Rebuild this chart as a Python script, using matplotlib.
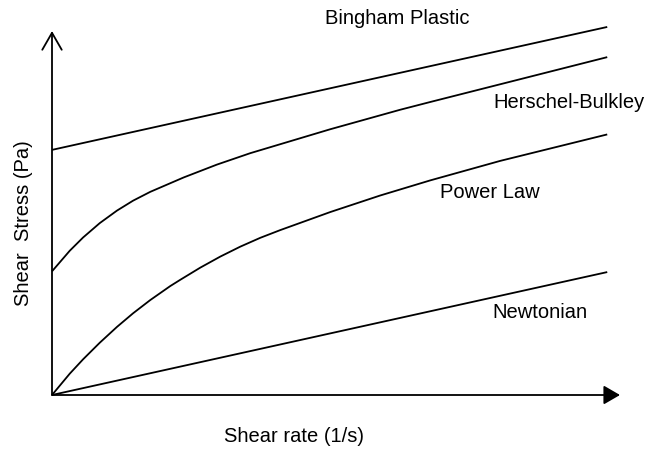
import matplotlib
matplotlib.use("Agg")
from matplotlib import pyplot as plt

plt.rcParams['font.family'] = ['Liberation Sans', 'DejaVu Sans']

# shear rate (arbitrary units, 0-100) and shear stress
newton_x = [0, 100]
newton_y = [0, 33.4]

bingham_x = [0, 100]
bingham_y = [66.6, 100]

power_x = [0, 3.2, 5.6, 8.6, 11.7, 14.6, 17.7, 21.3, 23.1, 26.7, 30.3,
           33.9, 37.5, 41.1, 50.1, 59.1, 68.1, 80.7, 100]
power_y = [0, 5.8, 9.7, 14.2, 18.5, 22.2, 25.8, 29.6, 31.3, 34.6, 37.6,
           40.3, 42.7, 44.8, 49.7, 54.2, 58.3, 63.6, 70.8]

hb_x = [0, 3.2, 5.6, 8.6, 11.7, 14.6, 17.7, 23.7, 29.7, 35.7, 50.1,
        62.7, 68.1, 100]
hb_y = [33.6, 39.2, 42.8, 46.7, 50.1, 52.8, 55.2, 59.1, 62.6, 65.7, 72.2,
        77.5, 79.6, 91.8]

labels = ['Bingham Plastic', 'Herschel-Bulkley', 'Power Law', 'Newtonian']

W, H = 651, 451
fig = plt.figure(figsize=(W / 100, H / 100), dpi=100)
# axes box: origin at pixel (52, 395), x arrow tip at 620, y arrow tip at 31
ax = fig.add_axes([52 / W, 56 / H, 568 / W, 364 / H])
ax.set_xlim(0, 102.3)
ax.set_ylim(0, 98.9)
ax.axis('off')

lw = 1.3
for xs, ys in [(bingham_x, bingham_y), (hb_x, hb_y),
               (power_x, power_y), (newton_x, newton_y)]:
    ax.plot(xs, ys, color='black', lw=lw, clip_on=False,
            solid_joinstyle='round', solid_capstyle='butt')

# axes with arrows
ax.annotate('', xy=(0, 1), xytext=(0, 0), xycoords='axes fraction',
            arrowprops=dict(arrowstyle='->,head_length=1.22,head_width=0.7',
                            lw=lw, color='black', shrinkA=0, shrinkB=0))
ax.annotate('', xy=(1, 0), xytext=(0, 0), xycoords='axes fraction',
            arrowprops=dict(arrowstyle='-|>,head_length=1.0,head_width=0.58',
                            lw=lw, color='black', fc='black',
                            shrinkA=0, shrinkB=0))


def px_text(x, y, s, **kw):
    fig.text(x / W, 1 - y / H, s, ha='center', va='center', fontsize=14.5, **kw)


px_text(397, 18, labels[0])
px_text(569, 102, labels[1])
px_text(490, 193, labels[2])
px_text(540, 312, labels[3])
px_text(294, 436, 'Shear rate (1/s)')
px_text(24, 223, 'Shear  Stress (Pa)', rotation=90)

fig.savefig('out.png', dpi=100)
